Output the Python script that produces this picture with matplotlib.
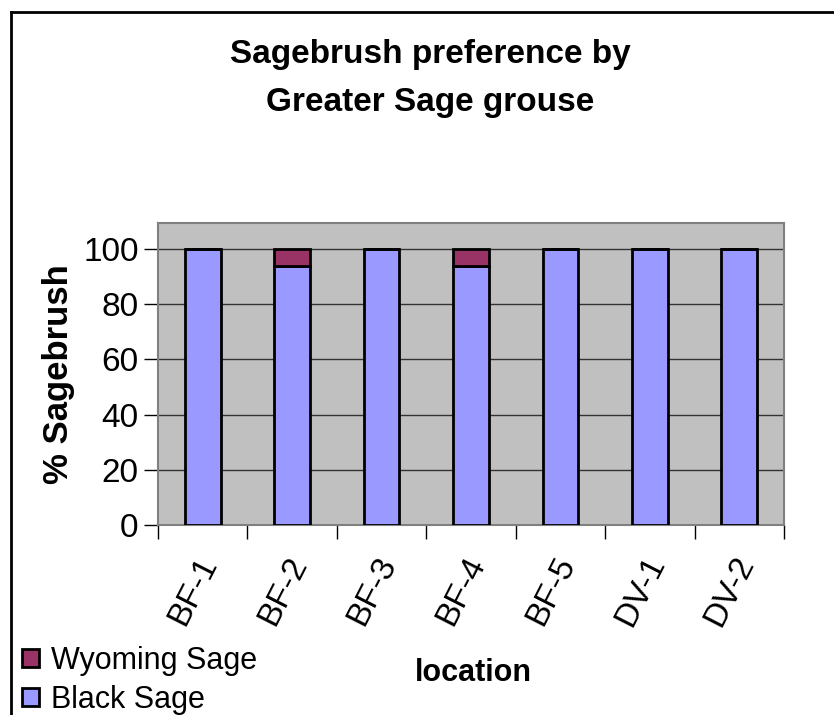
import matplotlib.pyplot as plt
import matplotlib.transforms as mtransforms
import numpy as np
from matplotlib.lines import Line2D

plt.rcParams['font.family'] = ['Liberation Sans', 'DejaVu Sans']

locations = ['BF-1', 'BF-2', 'BF-3', 'BF-4', 'BF-5', 'DV-1', 'DV-2']
black_sage = [100, 94, 100, 94, 100, 100, 100]
wyoming_sage = [0, 6, 0, 6, 0, 0, 0]

fig = plt.figure(figsize=(8.34, 7.15), dpi=100)
W, H = 834, 715
ax = fig.add_axes([158 / W, 1 - 525 / H, (784 - 158) / W, (525 - 223) / H])
ax.set_facecolor('#C0C0C0')

x = np.arange(len(locations))
ax.bar(x, black_sage, width=0.4, color='#9999FF', edgecolor='black', linewidth=2,
       label='Black Sage', zorder=3)
ax.bar(x, wyoming_sage, width=0.4, bottom=black_sage, color='#993366',
       edgecolor='black', linewidth=2, label='Wyoming Sage', zorder=3)

ax.set_xlim(-0.5, len(locations) - 0.5)
ax.set_ylim(0, 109.4)
ax.set_yticks([0, 20, 40, 60, 80, 100])
ax.yaxis.grid(True, color='#333333', linewidth=1, zorder=0)
ax.set_axisbelow(True)
ax.tick_params(axis='y', labelsize=24, length=10, width=1, direction='out', pad=4)

ax.set_xticks(x)
ax.set_xticklabels(locations, rotation=63, fontsize=24, rotation_mode='anchor',
                   ha='right', va='center')
ax.tick_params(axis='x', length=0, pad=24)
shift = mtransforms.ScaledTranslation(7 / 100, 0, fig.dpi_scale_trans)
for lbl in ax.get_xticklabels():
    lbl.set_transform(lbl.get_transform() + shift)
# boundary ticks between categories
ax.set_xticks(np.arange(len(locations) + 1) - 0.5, minor=True)
ax.tick_params(axis='x', which='minor', length=10, width=1, direction='out')

for s in ['top', 'right', 'left', 'bottom']:
    ax.spines[s].set_color('#808080')
    ax.spines[s].set_linewidth(1.5)

ax.set_ylabel('% Sagebrush', fontsize=25, fontweight='bold', labelpad=6)
fig.text(473 / W, 1 - 673 / H, 'location', fontsize=22, fontweight='bold',
         ha='center', va='center')
fig.text(430 / W, 1 - 55 / H, 'Sagebrush preference by', fontsize=24,
         fontweight='bold', ha='center', va='center')
fig.text(430 / W, 1 - 103 / H, 'Greater Sage grouse', fontsize=24,
         fontweight='bold', ha='center', va='center')

handles, labels = ax.get_legend_handles_labels()
leg = fig.legend(handles[::-1], labels[::-1], loc='lower left',
                 bbox_to_anchor=(22 / W, 1 - 715 / H), frameon=False, fontsize=22,
                 handlelength=0.55, handleheight=0.55, handletextpad=0.4,
                 labelspacing=0.3, borderaxespad=0, borderpad=0)

# outer chart border (top and left visible)
fig.add_artist(Line2D([11 / W, 1], [1 - 12 / H] * 2, color='black', lw=2))
fig.add_artist(Line2D([11 / W] * 2, [0, 1 - 12 / H], color='black', lw=2))

fig.savefig('out.png', dpi=100)
